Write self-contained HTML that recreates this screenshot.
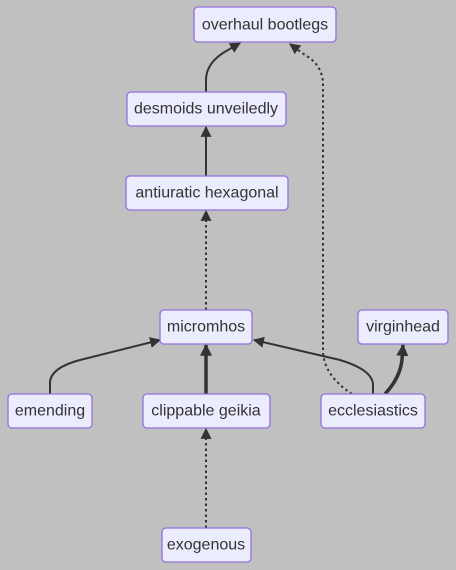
<!DOCTYPE html>
<html><head><meta charset="utf-8"><style>
html,body{margin:0;padding:0;background:#c0c0c0;width:456px;height:570px;overflow:hidden}
svg{display:block}
text{font-family:"Liberation Sans","DejaVu Sans",sans-serif;font-size:16px;fill:#333;text-anchor:middle;dominant-baseline:central}
.n rect{fill:#ececff;stroke:#9370db;stroke-width:1.3}
.e{fill:none;stroke:#333;stroke-width:2}
.t{stroke-width:3.5}
.d{stroke-dasharray:2.5 3}
</style></head><body>
<svg width="456" height="570" viewBox="0 0 456 570">
<defs><marker id="a" viewBox="0 0 10 10" refX="9" refY="5" markerWidth="11" markerHeight="11" markerUnits="userSpaceOnUse" orient="auto"><path d="M0,0L10,5L0,10z" fill="#333"/></marker>
<marker id="at" viewBox="0 0 10 10" refX="9" refY="5" markerWidth="12" markerHeight="12" markerUnits="userSpaceOnUse" orient="auto"><path d="M0,0L10,5L0,10z" fill="#333"/></marker></defs>
<g>
<path class="e" d="M206,92 L206,80 Q206,62 228,50 L240,43" marker-end="url(#a)"/>
<path class="e" d="M206,176 L206,127" marker-end="url(#a)"/>
<path class="e d" d="M206,310 L206,211" marker-end="url(#a)"/>
<path class="e" d="M50,394 L50,383 Q50,368 80,360 L160,340" marker-end="url(#a)"/>
<path class="e t" d="M206,394 L206,345" marker-end="url(#at)"/>
<path class="e" d="M373,394 L373,385 Q373,370 340,360 L254,340" marker-end="url(#a)"/>
<path class="e t" d="M385,394 Q400,378 402,360 L403,345" marker-end="url(#at)"/>
<path class="e d" d="M352,394 Q323,375 323,350 L323,85 Q323,65 305,55 L290,44" marker-end="url(#a)"/>
<path class="e d" d="M206,528 L206,429" marker-end="url(#a)"/>
</g>
<g class="n"><rect x="194" y="7" width="142" height="35" rx="4"/><text x="265" y="25">overhaul bootlegs</text></g>
<g class="n"><rect x="127" y="92" width="159" height="34" rx="4"/><text x="206" y="109">desmoids unveiledly</text></g>
<g class="n"><rect x="126" y="176" width="162" height="34" rx="4"/><text x="207" y="193">antiuratic hexagonal</text></g>
<g class="n"><rect x="160" y="310" width="92" height="34" rx="4"/><text x="206" y="327">micromhos</text></g>
<g class="n"><rect x="358" y="310" width="90" height="34" rx="4"/><text x="403" y="327">virginhead</text></g>
<g class="n"><rect x="8" y="394" width="84" height="34" rx="4"/><text x="50" y="411">emending</text></g>
<g class="n"><rect x="143" y="394" width="127" height="34" rx="4"/><text x="206" y="411">clippable geikia</text></g>
<g class="n"><rect x="321" y="394" width="104" height="34" rx="4"/><text x="373" y="411">ecclesiastics</text></g>
<g class="n"><rect x="162" y="528" width="89" height="34" rx="4"/><text x="206" y="545">exogenous</text></g>
</svg>
</body></html>
